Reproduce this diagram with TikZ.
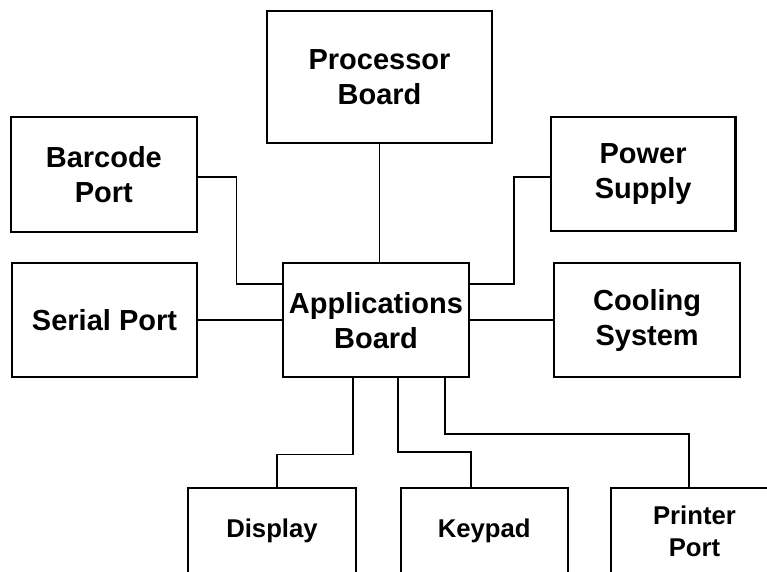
\documentclass[tikz,border=0pt]{standalone}
\usepackage{fontspec}
\setmainfont{Liberation Sans}
\begin{document}
\begin{tikzpicture}[x=1pt,y=-1pt,
  blk/.style={draw, line width=2.2pt, rectangle, inner sep=0pt, align=center,
    font=\bfseries\fontsize{29}{35}\selectfont},
  lowblk/.style={blk, font=\bfseries\fontsize{25.7}{32}\selectfont,
    minimum width=167pt, minimum height=85.7pt},
  wire/.style={line width=1.8pt}]
\useasboundingbox (0,0) rectangle (767,571);
\clip (0,0) rectangle (767,571);
\fill[white] (0,0) rectangle (767,571);

\node[blk, minimum width=224.4pt, minimum height=131.7pt] (proc) at (379.5,76.85) {Processor\\Board};
\node[blk, minimum width=185.7pt, minimum height=114.4pt] (bar) at (103.85,174.5) {Barcode\\Port};
\node[blk, minimum width=184.8pt, minimum height=114.3pt] (pow) at (643.1,173.85) {Power\\Supply};
\node[blk, minimum width=185.6pt, minimum height=114pt] (ser) at (104.5,320.3) {Serial Port};
\node[blk, minimum width=185.4pt, minimum height=114pt] (app) at (376,320.3) {Applications\\Board};
\node[blk, minimum width=185.7pt, minimum height=114pt] (cool) at (647.15,320.3) {Cooling\\System};
\node[lowblk, minimum width=167.4pt] (disp) at (272,531.15) {Display};
\node[lowblk] (key) at (484.2,531.15) {Keypad};
\node[lowblk] (prn) at (694.5,531.15) {Printer\\Port};

\draw[wire] (proc.south) -- (proc.south |- app.north);
\draw[wire] ([yshift=-2.2pt]bar.east) -- ++(38.6,0) |- ([yshift=36pt]app.west);
\draw[wire] ([yshift=-2.8pt]pow.west) -- ++(-35.7,0) |- ([yshift=36pt]app.east);
\draw[wire] (ser.east) -- (app.west);
\draw[wire] (app.east) -- (cool.west);
\draw[wire] ([xshift=-22.7pt]app.south) -- ++(0,76) -| ([xshift=4.7pt]disp.north);
\draw[wire] ([xshift=22.3pt]app.south) -- ++(0,73.7) -| ([xshift=-13.5pt]key.north);
\draw[wire] ([xshift=69pt]app.south) -- ++(0,55.7) -| ([xshift=-5.5pt]prn.north);
\end{tikzpicture}
\end{document}
